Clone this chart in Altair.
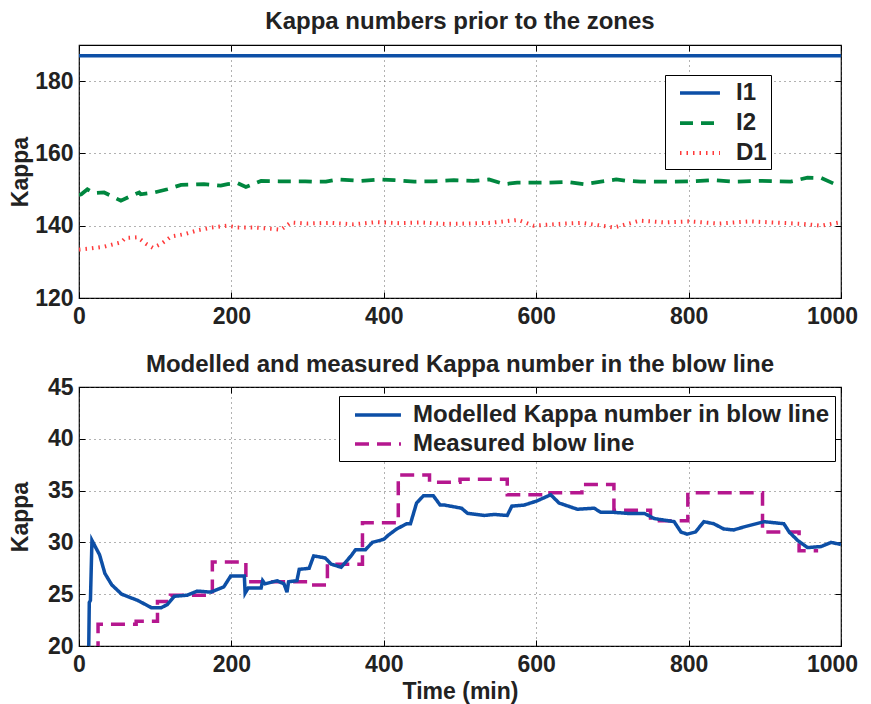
import altair as alt
import pandas as pd

# ---------------- data: top panel ----------------
t_i1 = [0, 1000]
v_i1 = [187, 187]

t_i2 = [0, 3, 11, 20, 33, 55, 66, 79, 81, 99, 116, 134, 164, 186, 195, 208, 219, 239, 262, 297,
        306, 324, 339, 370, 397, 414, 440, 466, 492, 518, 538, 558, 575, 610, 641, 663, 685, 705,
        720, 737, 781, 807, 833, 859, 895, 934, 956, 974, 991, 1000]
v_i2 = [148.5, 148.7, 150.1, 149.0, 149.2, 146.9, 148.0, 149.2, 148.7, 149.2, 150.1, 151.3, 151.5,
        151.1, 151.5, 151.8, 150.7, 152.4, 152.3, 152.3, 152.2, 152.2, 152.8, 152.4, 152.8, 152.6,
        152.2, 152.3, 152.6, 152.4, 152.8, 151.5, 151.9, 151.9, 152.1, 151.5, 152.2, 152.8, 152.4,
        152.2, 152.2, 152.3, 152.6, 152.2, 152.4, 152.2, 153.3, 153.2, 151.6, 151.3]

t_d1 = [0, 15, 33, 55, 61, 77, 88, 97, 108, 121, 139, 157, 174, 195, 208, 230, 256, 265, 278, 300,
        330, 360, 390, 420, 450, 480, 510, 540, 576, 597, 630, 660, 702, 736, 770, 800, 840, 880,
        920, 950, 974, 1000]
v_d1 = [133.4, 133.7, 134.2, 135.4, 136.6, 136.8, 135.0, 133.9, 135.0, 137.0, 137.7, 138.8, 139.5,
        140.0, 139.5, 139.5, 139.1, 138.9, 140.9, 140.6, 140.8, 140.4, 141.0, 140.7, 140.9, 140.5,
        140.6, 140.8, 141.6, 140.0, 140.5, 140.8, 139.5, 141.4, 140.9, 141.2, 140.6, 141.2, 140.8,
        140.5, 140.0, 141.0]

top_names = ["I1", "I2", "D1"]

# ---------------- data: bottom panel ----------------
t_mod = [12, 13.5, 15, 17, 27, 34, 43, 56, 77, 95, 108, 116, 125, 142, 155, 173, 190, 199, 217, 218,
         222, 239, 241, 244, 260, 269, 273, 275, 286, 289, 302, 308, 323, 331, 344, 357, 363, 376,
         385, 400, 406, 417, 430, 435, 443, 452, 465, 474, 480, 502, 510, 532, 545, 562, 568, 584,
         601, 619, 630, 654, 676, 685, 702, 720, 742, 755, 781, 790, 798, 809, 820, 833, 846, 859,
         873, 899, 925, 932, 943, 956, 974, 987, 1000]
v_mod = [15, 24.2, 24.4, 30.2, 28.8, 27.0, 25.9, 25.0, 24.4, 23.7, 23.7, 24.0, 24.8, 24.9, 25.3,
         25.2, 25.7, 26.75, 26.75, 25.1, 25.6, 25.6, 26.3, 26.0, 26.3, 26.0, 25.2, 26.2, 26.3, 27.4,
         27.5, 28.7, 28.5, 27.9, 27.6, 28.7, 29.3, 29.3, 30.0, 30.3, 30.7, 31.3, 31.8, 31.8, 33.8,
         34.5, 34.5, 33.6, 33.6, 33.3, 32.8, 32.6, 32.7, 32.6, 33.5, 33.6, 34.0, 34.6, 33.8, 33.2,
         33.3, 32.9, 32.9, 32.8, 32.8, 32.3, 32.0, 31.0, 30.8, 31.0, 32.0, 31.8, 31.3, 31.2, 31.5,
         32.0, 31.8, 31.0, 30.2, 29.5, 29.6, 30.0, 29.8]

t_meas = [23, 25, 75, 103, 120, 175, 219, 305, 326, 372, 419, 460, 500, 562, 611, 660, 702, 750,
          799, 897, 945, 970]
v_meas = [15, 22.1, 22.4, 24.3, 24.9, 28.1, 26.2, 25.9, 27.9, 31.9, 36.5, 35.8, 36.1, 34.6, 34.8,
          35.6, 33.1, 32.1, 34.8, 31.0, 29.2, 29.2]

bot_names = ["Modelled Kappa number in blow line", "Measured blow line"]

x_ticks = [0, 200, 400, 600, 800, 1000]
y_ticks_top = [120, 140, 160, 180]
y_ticks_bot = [20, 25, 30, 35, 40, 45]

FONT = "Liberation Sans"
FS = 23
LFS = 24
TXT = "#222"

top_df = pd.concat([
    pd.DataFrame({"t": t_i1, "v": v_i1, "s": "I1"}),
    pd.DataFrame({"t": t_i2, "v": v_i2, "s": "I2"}),
    pd.DataFrame({"t": t_d1, "v": v_d1, "s": "D1"}),
])
mod_df = pd.DataFrame({"t": t_mod, "v": v_mod, "s": bot_names[0]})
meas_df = pd.DataFrame({"t": t_meas, "v": v_meas, "s": bot_names[1]})

W = 762
TICK = 6


def legend(x, y, path, pad, row_pad, label_off, tail):
    return alt.Legend(orient="none", legendX=x, legendY=y, title=None,
                      strokeColor="black", fillColor="white", padding=pad,
                      labelFont=FONT, labelFontWeight="bold", labelFontSize=LFS,
                      labelColor=TXT, labelLimit=900, symbolType=path, symbolSize=LFS * LFS,
                      symbolFillColor="transparent",
                      rowPadding=row_pad, labelOffset=label_off, cornerRadius=0,
                      labelExpr="datum.label + '" + "\u00a0" * tail + "'")


top_leg = dict(x=586, y=30, path="M-0.25,0H3.08", pad=4, row_pad=4, label_off=39, tail=3)
bot_leg = dict(x=260, y=9, path="M-0.25,0H3.58", pad=5, row_pad=3, label_off=41, tail=1)

last_label_shift = {"condition": {"test": "datum.value == 1000", "value": -9}, "value": 0}


def main_x(title):
    kw = dict(values=x_ticks, format="d", grid=True, domain=False, offset=-TICK,
              tickSize=TICK, labelPadding=7, labelFlush=False, labelOffset=last_label_shift)
    if title:
        return alt.Axis(title=title, titlePadding=4, **kw)
    return alt.Axis(title=None, **kw)


def main_y(vals):
    return alt.Axis(values=vals, format="d", title="Kappa", grid=True, domain=False,
                    offset=-TICK, tickSize=TICK, labelPadding=6,
                    minExtent=47, maxExtent=47, titlePadding=6)


def tick_x():
    return alt.Axis(orient="top", values=x_ticks, labels=False, title=None, grid=False,
                    domain=False, offset=-TICK, tickSize=TICK)


def tick_y(vals):
    return alt.Axis(orient="right", values=vals, labels=False, title=None, grid=False,
                    domain=False, offset=-TICK, tickSize=TICK)


xs = alt.Scale(domain=[0, 1000], nice=False)
ys_top = alt.Scale(domain=[120, 190], nice=False)
ys_bot = alt.Scale(domain=[20, 45], nice=False)

# ---------------- top panel ----------------
top_lines = alt.Chart(top_df).mark_line(clip=True).encode(
    x=alt.X("t:Q", scale=xs, axis=main_x(None)),
    y=alt.Y("v:Q", scale=ys_top, axis=main_y(y_ticks_top)),
    color=alt.Color("s:N", scale=alt.Scale(domain=top_names, range=["#0d4fa6", "#00873f", "#ff3b3b"]),
                    legend=legend(**top_leg)),
    strokeDash=alt.StrokeDash("s:N", scale=alt.Scale(domain=top_names, range=[[1, 0], [13, 8], [1.5, 5]]),
                              legend=legend(**top_leg)),
    strokeWidth=alt.StrokeWidth("s:N", scale=alt.Scale(domain=top_names, range=[3.5, 4, 1.3]),
                                legend=legend(**top_leg)),
    order=alt.Order("t:Q"),
)
top_ticks = alt.Chart(top_df).mark_line(opacity=0).encode(
    x=alt.X("t:Q", scale=xs, axis=tick_x()),
    y=alt.Y("v:Q", scale=ys_top, axis=tick_y(y_ticks_top)),
)
top = alt.layer(top_lines, top_ticks).resolve_axis(x="independent", y="independent").properties(
    width=W, height=253,
    title=alt.TitleParams("Kappa numbers prior to the zones", offset=11))

# ---------------- bottom panel ----------------
c_scale = alt.Scale(domain=bot_names, range=["#0d4fa6", "#b5178f"])
d_scale = alt.Scale(domain=bot_names, range=[[1, 0], [14, 8]])
w_scale = alt.Scale(domain=bot_names, range=[3.5, 3.5])

meas_line = alt.Chart(meas_df).mark_line(clip=True, interpolate="step-after").encode(
    x=alt.X("t:Q", scale=xs, axis=main_x("Time (min)")),
    y=alt.Y("v:Q", scale=ys_bot, axis=main_y(y_ticks_bot)),
    color=alt.Color("s:N", scale=c_scale, legend=legend(**bot_leg)),
    strokeDash=alt.StrokeDash("s:N", scale=d_scale, legend=legend(**bot_leg)),
    strokeWidth=alt.StrokeWidth("s:N", scale=w_scale, legend=legend(**bot_leg)),
    order=alt.Order("t:Q"),
)
mod_line = alt.Chart(mod_df).mark_line(clip=True).encode(
    x=alt.X("t:Q", scale=xs, axis=tick_x()),
    y=alt.Y("v:Q", scale=ys_bot, axis=tick_y(y_ticks_bot)),
    color=alt.Color("s:N", scale=c_scale, legend=legend(**bot_leg)),
    strokeDash=alt.StrokeDash("s:N", scale=d_scale, legend=legend(**bot_leg)),
    strokeWidth=alt.StrokeWidth("s:N", scale=w_scale, legend=legend(**bot_leg)),
    order=alt.Order("t:Q"),
)
bottom = alt.layer(meas_line, mod_line).resolve_axis(x="independent", y="independent").properties(
    width=W, height=259,
    title=alt.TitleParams("Modelled and measured Kappa number in the blow line", offset=-1))

chart = alt.vconcat(top, bottom, spacing=23).resolve_scale(
    color="independent", strokeDash="independent", strokeWidth="independent"
).configure(
    font=FONT, padding={"left": 0, "top": 0, "right": 0, "bottom": 0}
).configure_view(
    stroke="black", strokeWidth=1.2
).configure_axis(
    labelFont=FONT, labelFontWeight="bold", labelFontSize=FS, labelColor=TXT,
    titleFont=FONT, titleFontWeight="bold", titleFontSize=FS, titleColor=TXT,
    tickColor="black", tickWidth=1,
    gridColor="#555", gridDash=[1, 4], gridOpacity=0.9, gridWidth=1,
).configure_title(
    font=FONT, fontWeight="bold", fontSize=24, color=TXT
)

chart.save("out.html", embed_options={"renderer": "svg", "actions": False})
